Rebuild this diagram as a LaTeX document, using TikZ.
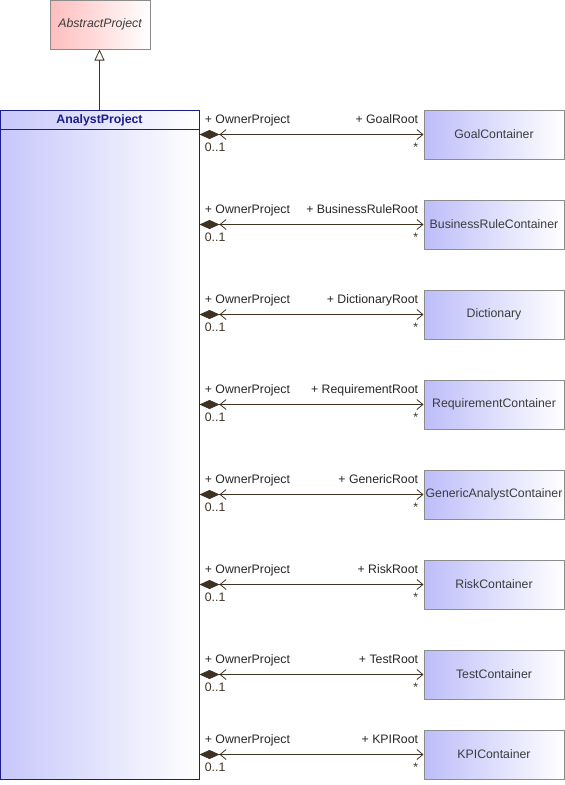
\documentclass[tikz,border=0pt]{standalone}
\usepackage{fontspec}
\setmainfont{Liberation Sans}
\usetikzlibrary{arrows.meta}
\definecolor{lineclr}{HTML}{3F3222}
\definecolor{boxgray}{HTML}{8C8C8C}
\definecolor{navy}{HTML}{1C1C8C}
\definecolor{lav}{HTML}{BDBDFA}
\definecolor{pink}{HTML}{FFBDBD}
\definecolor{txtgray}{HTML}{3C3C3C}

\begin{document}
\begin{tikzpicture}[x=1pt,y=-1pt,font=\fontsize{12.3}{14}\selectfont,
    cont/.style={draw=boxgray,line width=1pt,left color=lav,right color=white,
      minimum width=140pt,minimum height=49pt,inner sep=0pt,text=txtgray},
    assoc/.style={draw=lineclr,line width=0.8pt,
      {Diamond[length=20pt,width=9pt,fill=lineclr]Straight Barb[length=6pt,width=10pt,line width=0.8pt]}-{Straight Barb[length=6pt,width=10pt,line width=0.8pt]}},
    rolel/.style={anchor=base west,xshift=5pt,yshift=11.5pt,inner sep=0pt,text=black!85},
    roler/.style={anchor=base east,xshift=-5pt,yshift=11.5pt,inner sep=0pt,text=black!85},
    multl/.style={anchor=base west,xshift=5pt,yshift=-17pt,inner sep=0pt,text=lineclr},
    multr/.style={anchor=base east,xshift=-5pt,yshift=-17pt,inner sep=0pt,text=lineclr}]
    \useasboundingbox (0,0) rectangle (565,785);
    % generalised class
    \node[draw=boxgray,line width=1pt,left color=pink,right color=white,
      minimum width=100pt,minimum height=49pt,inner sep=0pt,text=txtgray,
      font=\fontsize{12.3}{14}\selectfont\itshape] (abs) at (100,24.5) {AbstractProject};
    % main class
    \node[draw=navy,line width=1pt,left color=lav!85,right color=white,
      minimum width=199pt,minimum height=669pt,inner sep=0pt] (ap) at (99.5,444.5) {};
    \draw[navy,line width=1pt] (ap.north west) ++(0,20) coordinate (hd) -- (hd -| ap.east);
    \node[font=\fontsize{12.3}{14}\selectfont\bfseries,text=navy] (aptitle) at (99.5,120) {AnalystProject};
    \draw[lineclr,line width=0.8pt,-{Triangle[open,length=11pt,width=10pt,fill=white]}]
      (ap.north) -- (ap.north |- abs.south);
    % containers and associations
    \foreach \n/\txt/\role/\y in {gc/GoalContainer/GoalRoot/134.5,
        brc/BusinessRuleContainer/BusinessRuleRoot/224.5,
        dic/Dictionary/DictionaryRoot/314.5,
        rc/RequirementContainer/RequirementRoot/404.5,
        gac/GenericAnalystContainer/GenericRoot/494.5,
        rkc/RiskContainer/RiskRoot/584.5,
        tc/TestContainer/TestRoot/674.5,
        kc/KPIContainer/KPIRoot/754.5} {
      \node[cont] (\n) at (494,\y) {\txt};
      \draw[assoc] (ap.east |- \n.west) -- (\n.west)
        node[pos=0,rolel] {+ OwnerProject}
        node[pos=0,multl] {0..1}
        node[pos=1,roler] {+ \role}
        node[pos=1,multr] {*};
    }
\end{tikzpicture}
\end{document}
